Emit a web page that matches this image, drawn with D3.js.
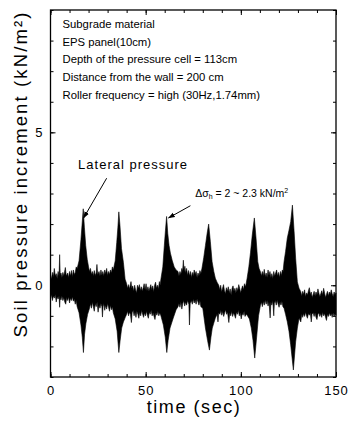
<!DOCTYPE html>
<html>
<head>
  <script src="https://d3js.org/d3.v7.min.js"></script>
  <style>
    body { margin: 0; background: #fff; }
    text { font-family: "Liberation Sans", Arial, sans-serif; fill: #000; }
  </style>
</head>
<body>
<div id="chart"></div>
<script>
// envelope of the recorded signal, [time (sec), soil pressure increment (kN/m2)]
const upperEdge = [
  [0,0.35],[0.5,0.2],[1,0.42],[1.5,0.28],[2,0.55],[2.5,0.3],[3,0.38],[3.5,0.22],[4,0.45],[4.5,0.3],[4.8,1.0],[5.1,0.35],[5.5,0.4],[6,0.25],[6.5,0.42],[7,0.3],[7.8,0.58],[8.3,0.3],[9,0.4],[9.5,0.25],[10,0.45],[10.5,0.3],[11,0.48],[11.5,0.28],[12,0.5],[12.5,0.35],[13,0.42],[13.5,0.6],[14,0.55],
  [15,0.8],[16,1.5],[16.6,2.0],[17.2,2.5],[17.8,1.9],[18.5,1.3],[19.3,0.85],[20,0.6],
  [20.5,0.45],[21,0.55],[21.5,0.35],[22,0.45],[22.5,0.3],[23,0.48],[23.5,0.32],[24,0.4],[24.4,0.68],[24.8,0.35],[25.5,0.45],[26,0.3],[26.5,0.5],[27,0.33],[27.5,0.45],[28,0.3],[28.5,0.5],[29,0.38],[29.5,0.55],[30,0.32],[30.5,0.45],[31,0.35],[31.5,0.5],[32,0.4],[32.5,0.6],[33,0.5],
  [34,0.8],[34.8,1.4],[35.4,1.9],[35.9,2.4],[36.5,1.95],[37.3,1.2],[38.3,0.75],[39.2,0.2],[40,0.05],
  [40.5,-0.1],[41,0.02],[41.5,-0.12],[42.3,0.12],[42.7,-0.1],[43.2,-0.02],[43.7,-0.2],[44.2,0.0],[44.7,-0.15],[45.2,-0.25],[45.7,0.0],[46.2,-0.1],[46.7,0.02],[47.2,-0.18],[47.7,-0.05],[48.2,-0.2],[48.7,-0.08],[49.2,0.05],[49.7,-0.15],[50.2,0.05],[50.7,-0.18],[51.2,-0.05],[51.7,-0.2],[52.2,-0.08],[52.7,0.02],[53.2,-0.15],[53.7,-0.02],[54.2,-0.22],[54.7,0.0],[55.2,0.1],[55.7,-0.1],[56.2,0.0],[56.7,-0.12],[57.2,0.12],[57.6,0.0],
  [58,0.2],[59,0.6],[59.8,1.3],[60.4,1.8],[61,2.25],[61.6,1.7],[62.3,1.3],[63,1.05],[64,0.8],[65,0.6],[66,0.5],[67,0.45],
  [67.5,0.3],[68,0.45],[68.5,0.35],[69,0.55],[69.4,0.45],[69.8,0.82],[70.2,0.45],[70.6,0.62],[71,0.4],[71.5,0.55],[72,0.32],[72.5,0.48],[73,0.3],[73.5,0.45],[74,0.25],[74.5,0.42],[75,0.3],[75.5,0.5],[76,0.35],[76.5,0.45],[77,0.25],[77.5,0.4],[78,0.3],[78.5,0.48],[79,0.38],
  [79.6,0.56],[80.5,0.9],[81.4,1.3],[82.3,1.7],[83.1,2.0],[84,1.42],[84.9,0.77],[85.8,0.45],[86.6,0.23],[87.5,0.1],[88.4,0.0],
  [88.9,-0.15],[89.4,0.0],[89.9,-0.22],[90.4,-0.1],[90.9,0.02],[91.4,-0.18],[91.9,-0.28],[92.4,-0.08],[92.9,-0.2],[93.4,-0.05],[93.9,-0.25],[94.4,-0.12],[94.9,-0.32],[95.4,-0.1],[95.9,-0.02],[96.4,-0.2],[96.9,-0.1],[97.4,-0.25],[97.9,-0.08],[98.4,-0.18],[98.9,0.02],[99.4,-0.1],[99.9,-0.25],[100.4,-0.12],[100.9,-0.02],[101.4,-0.15],[101.9,0.05],[102.5,-0.05],
  [103.3,0.23],[104.2,0.6],[105.1,1.08],[106,1.64],[107.1,2.2],[108,1.54],[108.9,0.77],[109.6,0.55],[110.3,0.44],
  [110.8,0.3],[111.3,0.45],[111.8,0.3],[112.3,0.52],[112.8,0.28],[113.3,0.4],[113.8,0.25],[114.3,0.5],[114.8,0.32],[115.3,0.45],[115.8,0.25],[116.3,0.38],[116.8,0.22],[117.3,0.45],[117.8,0.3],[118.3,0.4],[118.8,0.5],[119.3,0.3],[119.8,0.42],[120.3,0.25],[120.8,0.45],[121.3,0.32],[121.8,0.5],[122.2,0.45],
  [122.7,0.77],[123.5,1.1],[124.4,1.54],[125.3,1.8],[126.2,2.08],[127.1,2.62],[128,1.75],[128.8,0.88],[129.7,0.11],[130.6,-0.1],[131.5,-0.21],
  [132,-0.35],[132.5,-0.2],[133,-0.3],[133.5,-0.15],[134,-0.38],[134.5,-0.25],[135,-0.32],[135.5,-0.18],[136,-0.08],[136.5,-0.3],[137,-0.22],[137.5,-0.4],[138,-0.3],[138.5,-0.2],[139,-0.35],[139.5,-0.22],[140,-0.32],[140.5,-0.12],[141,-0.25],[141.5,-0.38],[142,-0.28],[142.5,-0.18],[143,-0.32],[143.5,-0.1],[144,-0.25],[144.5,-0.4],[145,-0.3],[145.5,-0.2],[146,-0.35],[146.5,-0.22],[147,-0.3],[147.5,-0.15],[148,-0.28],[148.5,-0.38],[149,-0.22],[149.5,-0.32],[150,-0.25]
];

const lowerEdge = [
  [0,-0.45],[0.5,-0.3],[1,-0.5],[1.5,-0.35],[2,-0.42],[2.5,-0.3],[3,-0.55],[3.5,-0.38],[4,-0.45],[4.5,-0.35],[4.8,-0.72],[5.1,-0.4],[5.5,-0.48],[6,-0.35],[6.5,-0.5],[7,-0.4],[7.5,-0.55],[8,-0.62],[8.5,-0.4],[9,-0.5],[9.5,-0.38],[10,-0.58],[10.5,-0.42],[11,-0.5],[11.5,-0.38],[12,-0.52],[12.5,-0.45],[13,-0.62],[13.5,-0.5],[14,-0.7],
  [15,-0.9],[16,-1.3],[16.7,-1.7],[17.3,-2.2],[17.9,-1.6],[18.6,-1.25],[19.5,-0.95],[20.5,-0.75],
  [21,-0.6],[21.5,-0.75],[22,-0.55],[22.5,-0.7],[23,-0.85],[23.5,-0.6],[24,-0.7],[24.5,-0.55],[25,-0.88],[25.5,-0.65],[26,-0.75],[26.5,-0.6],[27,-0.7],[27.3,-1.04],[27.6,-0.7],[28,-0.6],[28.5,-0.82],[29,-0.65],[29.5,-0.78],[30,-0.6],[30.5,-0.72],[31,-0.85],[31.5,-0.65],[32,-0.8],[32.5,-0.7],[33,-0.9],
  [34,-1.1],[35,-1.5],[35.9,-2.2],[36.6,-1.8],[37.4,-1.4],[38.3,-1.2],[39.3,-1.05],[40,-0.95],
  [40.5,-0.85],[41,-1.0],[41.5,-0.88],[42,-0.95],[42.5,-1.22],[42.9,-0.9],[43.4,-0.82],[43.9,-1.0],[44.4,-0.88],[44.9,-1.05],[45.4,-0.85],[45.9,-0.95],[46.4,-1.08],[46.9,-0.88],[47.4,-1.0],[47.9,-0.82],[48.4,-0.95],[48.9,-1.05],[49.4,-0.9],[49.9,-1.0],[50.4,-0.85],[50.9,-0.98],[51.4,-1.08],[51.9,-0.88],[52.4,-0.95],[52.9,-0.82],[53.4,-1.0],[53.9,-0.9],[54.4,-1.02],[54.9,-1.12],[55.4,-0.9],[55.9,-0.98],[56.4,-0.85],[56.9,-1.0],[57.4,-0.9],
  [58,-1.0],[59.3,-1.3],[60.3,-1.7],[61.1,-2.2],[61.8,-1.8],[62.8,-1.4],[64.5,-1.07],[66,-0.8],[67,-0.7],
  [67.5,-0.6],[68,-0.72],[68.5,-0.55],[69,-0.78],[69.5,-0.6],[70,-0.5],[70.5,-0.68],[71,-0.55],[71.5,-0.65],[72,-0.5],[72.7,-0.62],[73,-1.3],[73.4,-0.6],[74,-0.5],[74.5,-0.62],[75,-0.45],[75.5,-0.58],[76,-0.48],[76.5,-0.62],[77,-0.45],[77.5,-0.55],[78,-0.65],[78.5,-0.5],[79,-0.7],
  [80,-0.75],[81.4,-1.4],[82.5,-1.8],[83.5,-2.12],[84.3,-1.7],[85,-1.4],[86.6,-1.07],[87.5,-0.95],[88,-1.2],[88.4,-0.9],
  [89,-0.95],[89.5,-0.82],[90,-0.98],[90.5,-0.85],[91,-1.02],[91.5,-0.9],[92,-0.8],[92.5,-0.95],[93,-0.88],[93.7,-1.22],[94.2,-0.9],[94.7,-1.0],[95.2,-0.85],[95.7,-1.02],[96.2,-0.9],[96.7,-0.98],[97.2,-1.08],[97.7,-0.88],[98.2,-0.95],[98.7,-0.82],[99.2,-1.0],[99.7,-0.9],[100.2,-1.1],[100.7,-0.92],[101.2,-0.98],[101.7,-0.85],[102.2,-1.02],[102.8,-0.95],
  [103.5,-1.0],[104.5,-1.1],[105.5,-1.4],[106.4,-1.8],[107.3,-2.38],[108.4,-1.63],[109.3,-1.0],[110.3,-0.65],
  [110.8,-0.55],[111.3,-0.7],[111.8,-0.52],[112.3,-0.65],[112.8,-0.48],[113.3,-0.62],[113.8,-0.5],[114.3,-0.68],[114.8,-0.55],[115.4,-1.07],[115.8,-0.55],[116.3,-0.65],[116.8,-0.5],[117.3,-1.0],[117.6,-0.6],[118.1,-0.5],[118.6,-0.65],[119.1,-0.48],[119.6,-0.62],[120.1,-0.72],[120.6,-0.55],[121.1,-0.65],[121.6,-0.52],[122.1,-0.7],
  [122.7,-0.75],[123.5,-0.95],[124.4,-1.19],[125.3,-1.5],[126.2,-1.95],[127.6,-2.77],[128.8,-1.85],[129.7,-1.4],[130.6,-1.07],[131.5,-1.2],[132,-0.95],
  [132.5,-1.05],[133,-0.92],[133.5,-1.02],[134,-0.88],[134.5,-1.0],[135,-1.08],[135.5,-0.92],[136,-0.98],[136.5,-0.9],[137,-1.2],[137.4,-0.95],[138,-0.9],[138.5,-1.02],[139,-0.9],[139.5,-1.05],[140,-1.12],[140.5,-0.95],[141,-0.9],[141.5,-1.02],[142,-0.92],[142.5,-1.05],[143,-0.88],[143.5,-1.0],[144,-0.92],[144.5,-1.05],[145,-1.15],[145.5,-0.95],[146,-1.02],[146.5,-0.9],[147,-1.0],[147.5,-0.92],[148,-1.05],[148.5,-0.9],[149,-1.02],[149.5,-0.92],[150,-0.98]
];

const xTicks = [0, 50, 100, 150];
const xMinorTicks = [0, 10, 20, 30, 40, 50, 60, 70, 80, 90, 100, 110, 120, 130, 140, 150];
const yTicks = [0, 5];
const yMinorTicks = [-3, -2, -1, 0, 1, 2, 3, 4, 5, 6, 7, 8, 9];

const notes = [
  "Subgrade material",
  "EPS panel(10cm)",
  "Depth of the pressure cell = 113cm",
  "Distance from the wall = 200 cm",
  "Roller frequency = high (30Hz,1.74mm)"
];

const W = 351, H = 421;
const margin = { top: 10, right: 15, bottom: 44, left: 50.5 };
const width = W - margin.left - margin.right;
const height = H - margin.top - margin.bottom;

const svg = d3.select("#chart").append("svg")
  .attr("width", W).attr("height", H);

const g = svg.append("g")
  .attr("transform", "translate(" + margin.left + "," + margin.top + ")");

const x = d3.scaleLinear().domain([0, 150]).range([0, width]);
const y = d3.scaleLinear().domain([-3, 9]).range([height, 0]);

// signal band
const line = d3.line().x(d => x(d[0])).y(d => y(d[1]));
const outline = upperEdge.concat(lowerEdge.slice().reverse());
g.append("path")
  .attr("d", line(outline) + "Z")
  .attr("fill", "#000")
  .attr("stroke", "#000")
  .attr("stroke-width", 0.6)
  .attr("stroke-linejoin", "miter");

// ticks (inward) on all four sides
function ticks(axis, tr) {
  const a = g.append("g").attr("transform", tr).call(axis);
  a.select(".domain").remove();
  a.selectAll("line").attr("stroke-width", 1);
  return a;
}
ticks(d3.axisBottom(x).tickValues(xMinorTicks).tickSize(-3).tickFormat(""), "translate(0," + height + ")");
ticks(d3.axisTop(x).tickValues(xMinorTicks).tickSize(-3).tickFormat(""), "translate(0,0)");
ticks(d3.axisLeft(y).tickValues(yMinorTicks).tickSize(-3).tickFormat(""), "translate(0,0)");
ticks(d3.axisRight(y).tickValues(yMinorTicks).tickSize(-3).tickFormat(""), "translate(" + width + ",0)");
ticks(d3.axisTop(x).tickValues(xTicks).tickSize(-5).tickFormat(""), "translate(0,0)");
ticks(d3.axisRight(y).tickValues(yTicks).tickSize(-5).tickFormat(""), "translate(" + width + ",0)");

const xAx = ticks(d3.axisBottom(x).tickValues(xTicks).tickSize(-5).tickPadding(9), "translate(0," + height + ")");
xAx.selectAll("text").style("font-size", "13px").style("letter-spacing", "1px")
  .attr("font-family", null);

const yAx = ticks(d3.axisLeft(y).tickValues(yTicks).tickSize(-5).tickPadding(8), "translate(0,0)");
yAx.selectAll("text").style("font-size", "13px").attr("font-family", null);

// frame
g.append("rect")
  .attr("width", width).attr("height", height)
  .attr("fill", "none").attr("stroke", "#000").attr("stroke-width", 1.3);

// axis titles
svg.append("text")
  .attr("x", margin.left + width / 2)
  .attr("y", 413)
  .attr("text-anchor", "middle")
  .style("font-size", "18px")
  .attr("textLength", 93)
  .text("time (sec)");

svg.append("text")
  .attr("transform", "translate(27,175) rotate(-90)")
  .attr("text-anchor", "middle")
  .style("font-size", "18.5px")
  .attr("textLength", 325)
  .text("Soil pressure increment (kN/m\u00B2)");

// notes
g.selectAll(".note").data(notes).enter().append("text")
  .attr("class", "note")
  .attr("x", 12)
  .attr("y", (d, i) => 18 + i * 17.7)
  .style("font-size", "11.3px")
  .text(d => d);

// annotations with arrows
svg.append("defs").append("marker")
  .attr("id", "head").attr("viewBox", "0 0 10 10")
  .attr("refX", 9).attr("refY", 5)
  .attr("markerWidth", 7).attr("markerHeight", 7)
  .attr("orient", "auto")
  .append("path").attr("d", "M0,1.5 L10,5 L0,8.5 Z").attr("fill", "#000");

g.append("text")
  .attr("x", x(14.5)).attr("y", y(3.8))
  .style("font-size", "13px").style("letter-spacing", "1px")
  .text("Lateral pressure");
g.append("line")
  .attr("x1", x(29.5)).attr("y1", y(3.5))
  .attr("x2", x(17.4)).attr("y2", y(2.2))
  .attr("stroke", "#000").attr("stroke-width", 1)
  .attr("marker-end", "url(#head)");

const dsig = g.append("text")
  .attr("x", x(76)).attr("y", y(2.9))
  .style("font-size", "10.5px");
dsig.append("tspan").text("\u0394\u03C3");
dsig.append("tspan").attr("dy", 2).style("font-size", "7px").text("h");
dsig.append("tspan").attr("dy", -2).text(" = 2 ~ 2.3 kN/m");
dsig.append("tspan").attr("dy", -4).style("font-size", "7px").text("2");
g.append("line")
  .attr("x1", x(73.5)).attr("y1", y(2.6))
  .attr("x2", x(62)).attr("y2", y(2.2))
  .attr("stroke", "#000").attr("stroke-width", 1)
  .attr("marker-end", "url(#head)");
</script>
</body>
</html>
